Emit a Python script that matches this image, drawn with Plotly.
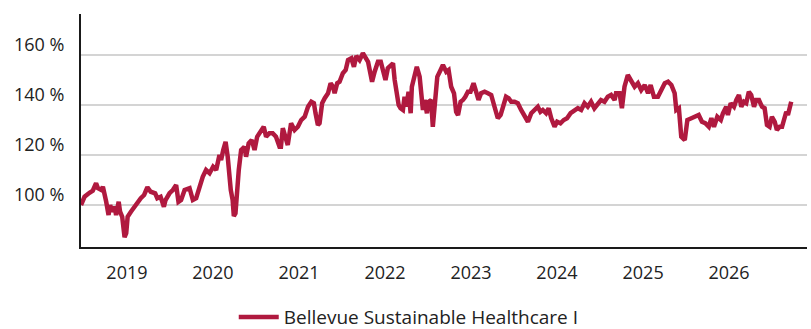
import plotly.graph_objects as go

# Indexed performance (start = 100 %)
dates = [
    "2018-06-20", "2018-07-05", "2018-07-26", "2018-08-09", "2018-08-23", "2018-08-31",
    "2018-09-14", "2018-09-21", "2018-10-05", "2018-10-15", "2018-10-22", "2018-10-30",
    "2018-11-10", "2018-11-16", "2018-11-27", "2018-12-03", "2018-12-12", "2018-12-22",
    "2018-12-29",
    "2019-01-04", "2019-01-18", "2019-02-01", "2019-02-15", "2019-03-01", "2019-03-15",
    "2019-03-29", "2019-04-12", "2019-05-01", "2019-05-10", "2019-05-24", "2019-06-07",
    "2019-06-14", "2019-07-01", "2019-07-15", "2019-07-29", "2019-08-08", "2019-08-19",
    "2019-09-03", "2019-09-24", "2019-10-08", "2019-10-22", "2019-11-05", "2019-11-19",
    "2019-12-03", "2019-12-18",
    "2020-01-02", "2020-01-15", "2020-01-29", "2020-02-05", "2020-02-14", "2020-02-24",
    "2020-03-04", "2020-03-11", "2020-03-17", "2020-03-25", "2020-03-30", "2020-04-06",
    "2020-04-13", "2020-04-20", "2020-04-30", "2020-05-14", "2020-05-21", "2020-06-01",
    "2020-06-14", "2020-06-26", "2020-07-07", "2020-07-21", "2020-08-04", "2020-08-14",
    "2020-08-28", "2020-09-11", "2020-09-25", "2020-10-10", "2020-10-16", "2020-10-24",
    "2020-11-03", "2020-11-14", "2020-11-28", "2020-12-13", "2020-12-27",
    "2021-01-10", "2021-01-25", "2021-02-08", "2021-02-22", "2021-03-05", "2021-03-12",
    "2021-03-22", "2021-03-29", "2021-04-09", "2021-04-20", "2021-05-04", "2021-05-15",
    "2021-05-25", "2021-06-01", "2021-06-12", "2021-06-22", "2021-07-06", "2021-07-18",
    "2021-07-28", "2021-08-11", "2021-08-22", "2021-09-01", "2021-09-15", "2021-09-29",
    "2021-10-09", "2021-10-21", "2021-10-28", "2021-11-07", "2021-11-18", "2021-12-02",
    "2021-12-14", "2021-12-23",
    "2022-01-03", "2022-01-13", "2022-01-25", "2022-02-04", "2022-02-11", "2022-02-18",
    "2022-02-28", "2022-03-08", "2022-03-18", "2022-03-25", "2022-04-01", "2022-04-11",
    "2022-04-20", "2022-04-25", "2022-05-07", "2022-05-16", "2022-05-28", "2022-06-03",
    "2022-06-11", "2022-06-18", "2022-06-28", "2022-07-05", "2022-07-16", "2022-07-23",
    "2022-07-31", "2022-08-11", "2022-08-25", "2022-09-04", "2022-09-18", "2022-09-28",
    "2022-10-09", "2022-10-21", "2022-10-30", "2022-11-07", "2022-11-18", "2022-11-28",
    "2022-12-08", "2022-12-19", "2022-12-30",
    "2023-01-12", "2023-01-23", "2023-02-02", "2023-02-13", "2023-02-28", "2023-03-14",
    "2023-03-28", "2023-04-11", "2023-04-25", "2023-05-07", "2023-05-16", "2023-05-30",
    "2023-06-10", "2023-06-21", "2023-07-05", "2023-07-19", "2023-08-02", "2023-08-16",
    "2023-08-31", "2023-09-14", "2023-09-28", "2023-10-12", "2023-10-23", "2023-11-02",
    "2023-11-16", "2023-11-27", "2023-12-08", "2023-12-22",
    "2024-01-02", "2024-01-16", "2024-01-30", "2024-02-13", "2024-02-28", "2024-03-16",
    "2024-03-30", "2024-04-13", "2024-04-27", "2024-05-11", "2024-05-25", "2024-06-08",
    "2024-06-22", "2024-07-06", "2024-07-21", "2024-08-04", "2024-08-18", "2024-09-02",
    "2024-09-08", "2024-09-23", "2024-10-03", "2024-10-14", "2024-10-28", "2024-11-11",
    "2024-11-26", "2024-12-10", "2024-12-24",
    "2025-01-08", "2025-01-22", "2025-02-02", "2025-02-16", "2025-03-05", "2025-03-19",
    "2025-04-03", "2025-04-17", "2025-05-01", "2025-05-15", "2025-05-22", "2025-06-02",
    "2025-06-12", "2025-06-27", "2025-07-08", "2025-07-25", "2025-08-11", "2025-08-25",
    "2025-09-08", "2025-09-22", "2025-10-07", "2025-10-18", "2025-10-29", "2025-11-12",
    "2025-11-27", "2025-12-06", "2025-12-20", "2025-12-27",
    "2026-01-08", "2026-01-22", "2026-02-01", "2026-02-12", "2026-02-22", "2026-03-05",
    "2026-03-15", "2026-03-26", "2026-04-05", "2026-04-17", "2026-04-26", "2026-05-08",
    "2026-05-21", "2026-06-01", "2026-06-11", "2026-06-22", "2026-07-02", "2026-07-14",
    "2026-07-23", "2026-08-04", "2026-08-14", "2026-08-22", "2026-09-01", "2026-09-08",
    "2026-09-15", "2026-09-22",
]

values = [
    100.0, 103.3, 104.9, 105.7, 108.7, 106.7,
    106.0, 107.3, 101.3, 96.0, 100.0, 97.3,
    99.3, 96.0, 101.3, 97.3, 95.3, 87.1,
    88.7,
    95.3, 97.3, 99.3, 101.3, 102.7, 104.0,
    107.1, 105.3, 104.7, 102.7, 103.3, 99.3,
    102.0, 104.7, 106.0, 108.0, 101.3, 102.0,
    106.0, 106.7, 102.0, 102.7, 107.3, 111.3,
    114.0, 112.7,
    115.3, 114.0, 120.0, 118.0, 122.0, 125.3,
    119.3, 111.3, 106.0, 102.0, 95.6, 96.7,
    106.0, 114.0, 122.0, 123.3, 119.3, 124.7,
    126.0, 122.0, 127.3, 129.3, 131.3, 127.3,
    128.7, 128.7, 127.3, 123.3, 123.3, 130.7,
    127.3, 124.0, 132.7, 130.0, 131.3,
    134.0, 135.3, 139.3, 141.3, 140.7, 136.7,
    132.0, 132.7, 140.7, 142.7, 144.7, 148.7,
    147.3, 144.7, 148.7, 149.3, 152.7, 154.0,
    158.0, 158.7, 155.3, 159.6, 158.0, 160.7,
    158.7, 157.3, 154.0, 149.3, 153.3, 157.3,
    157.3, 154.0,
    150.0, 154.7, 156.0, 156.7, 150.0, 146.0,
    140.0, 138.7, 138.0, 143.3, 139.3, 145.3,
    136.7, 147.3, 151.3, 155.3, 151.3, 146.0,
    138.0, 142.0, 136.7, 141.3, 142.0, 131.3,
    141.3, 151.3, 154.0, 156.0, 153.3, 154.0,
    147.3, 144.7, 137.3, 136.0, 141.3, 142.0,
    143.3, 145.3, 145.3,
    148.7, 145.3, 142.0, 144.7, 145.3, 144.7,
    144.0, 139.3, 134.7, 136.0, 139.3, 143.3,
    142.7, 141.3, 141.3, 140.7, 138.0, 135.3,
    133.3, 136.7, 138.0, 139.3, 137.3, 138.0,
    136.7, 138.7, 134.7, 131.3,
    133.3, 132.7, 134.0, 134.7, 136.7, 138.0,
    138.7, 138.0, 140.7, 139.3, 141.3, 138.7,
    140.7, 142.0, 141.3, 143.3, 144.0, 142.0,
    144.7, 144.7, 138.7, 147.3, 152.0, 150.0,
    147.3, 148.7, 146.0,
    148.0, 144.7, 148.0, 143.3, 143.3, 146.0,
    148.7, 149.3, 148.0, 144.7, 138.0, 138.7,
    127.3, 126.0, 134.0, 134.7, 135.3, 136.0,
    133.3, 132.7, 131.3, 134.7, 131.3, 135.3,
    134.0, 136.7, 139.3, 136.0,
    140.7, 139.3, 142.0, 144.0, 139.3, 141.3,
    140.7, 145.3, 144.0, 139.3, 142.0, 142.0,
    139.3, 138.7, 132.0, 131.3, 135.3, 133.3,
    130.0, 131.3, 131.3, 134.7, 137.3, 136.0,
    138.7, 141.3,
]

series_name = "Bellevue Sustainable Healthcare I"
y_ticks = [100, 120, 140, 160]
y_tick_labels = ["100 %", "120 %", "140 %", "160 %"]
x_ticks = ["2019-01-01", "2020-01-01", "2021-01-01", "2022-01-01",
           "2023-01-01", "2024-01-01", "2025-01-01", "2026-01-01"]
x_tick_labels = ["2019", "2020", "2021", "2022", "2023", "2024", "2025", "2026"]

line_color = "#B0193F"
text_color = "#222222"

fig = go.Figure(
    go.Scatter(
        x=dates,
        y=values,
        mode="lines",
        name=series_name,
        line=dict(color=line_color, width=4.5),
        showlegend=True,
    )
)

fig.update_layout(
    width=811,
    height=329,
    margin=dict(l=81, r=4, t=14, b=82, autoexpand=False),
    paper_bgcolor="white",
    plot_bgcolor="white",
    font=dict(family="Open Sans", size=18, color=text_color),
    showlegend=True,
    legend=dict(
        orientation="h",
        xref="container",
        yref="container",
        x=0.504,
        xanchor="center",
        y=0.036,
        yanchor="middle",
        font=dict(size=19, color=text_color),
        itemwidth=40,
    ),
    xaxis=dict(
        range=["2018-06-20", "2026-11-28"],
        tickmode="array",
        tickvals=x_ticks,
        ticktext=x_tick_labels,
        tickangle=0,
        showgrid=False,
        showline=True,
        linecolor="#1a1a1a",
        linewidth=2,
        ticks="",
        ticklabelstandoff=8,
        zeroline=False,
    ),
    yaxis=dict(
        range=[83.2, 176.4],
        tickmode="array",
        tickvals=y_ticks,
        ticktext=y_tick_labels,
        showgrid=True,
        gridcolor="#d4d4d4",
        gridwidth=1.5,
        showline=True,
        linecolor="#1a1a1a",
        linewidth=2,
        ticks="",
        ticklabelstandoff=11,
        ticklabelshift=-10,
        zeroline=False,
    ),
)

fig.write_html("out.html")
